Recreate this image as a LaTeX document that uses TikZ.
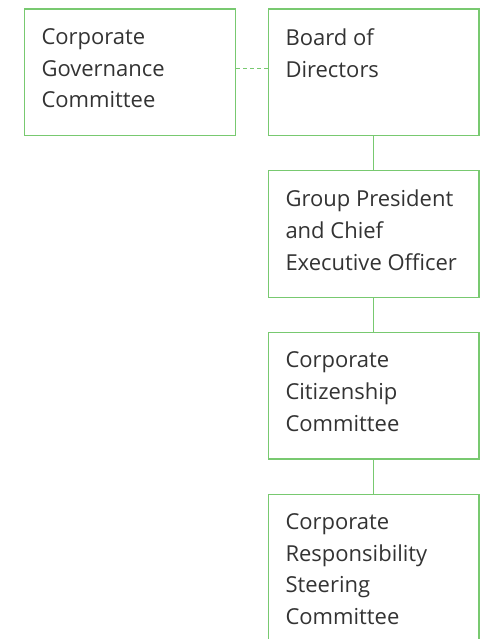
\documentclass[tikz,border=0pt]{standalone}
\usepackage{fontspec}
\setmainfont{Open Sans}
\usepackage{xcolor}
\usetikzlibrary{positioning,calc}
\definecolor{orggreen}{RGB}{120,201,112}
\definecolor{orgtext}{RGB}{51,51,51}
\tikzstyle{chart}=[
  x=1pt,y=1pt,line width=1.2pt,font=\fontsize{22}{31.7}\selectfont
]
\tikzstyle{orgbox}=[
  draw=orggreen,rectangle,inner sep=0pt,minimum width=210.5pt,minimum height=126.5pt
]
\tikzstyle{orgtext}=[
  anchor=north west,inner sep=0pt,align=left,text=orgtext
]
\tikzstyle{orgline}=[
  draw=orggreen,line width=1.4pt
]
\tikzstyle{orgdash}=[
  draw=orggreen,dash pattern=on 4pt off 3pt
]

\begin{document}
\begin{tikzpicture}[chart]
    \clip (0,0) rectangle (485,-639);
      \node (gov) at (130,-72.25) [orgbox,minimum width=211pt] {};
      \node (board) at (373.75,-72.25) [orgbox] {};
      \node (ceo) [orgbox,below=34pt of board] {};
      \node (citizen) [orgbox,below=34pt of ceo] {};
      \node (steer) [orgbox,below=34pt of citizen,minimum height=170pt] {};
      \node (govt) at ($(gov.north west) + (17pt,-19.5pt)$) [orgtext] {Corporate\\Governance\\Committee};
      \node (boardt) at ($(board.north west) + (17pt,-19.5pt)$) [orgtext] {Board of\\Directors};
      \node (ceot) at ($(ceo.north west) + (17pt,-19.5pt)$) [orgtext] {Group President\\and Chief\\Executive Officer};
      \node (citizent) at ($(citizen.north west) + (17pt,-19.5pt)$) [orgtext] {Corporate\\Citizenship\\Committee};
      \node (steert) at ($(steer.north west) + (17pt,-19.5pt)$) [orgtext] {Corporate\\Responsibility\\Steering\\Committee};
      \draw [orgdash] ([yshift=4pt]gov.east) -- ([yshift=4pt]board.west);
      \draw [orgline] (board.south) -- (ceo.north);
      \draw [orgline] (ceo.south) -- (citizen.north);
      \draw [orgline] (citizen.south) -- (steer.north);
    \end{tikzpicture}
\end{document}
